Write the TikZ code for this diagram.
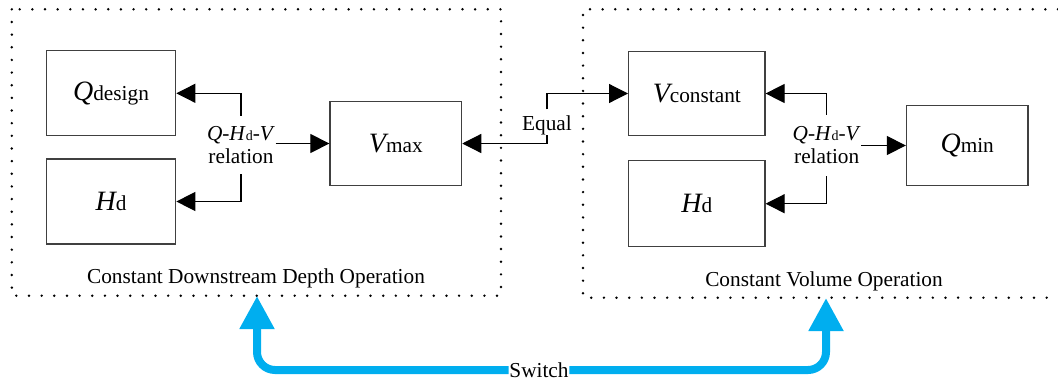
\documentclass[tikz,border=0pt]{standalone}
\usepackage{fontspec}
\setmainfont{Liberation Serif}
\usetikzlibrary{arrows.meta}

\definecolor{switchblue}{RGB}{0,174,239}
\definecolor{boxgray}{RGB}{64,64,64}

% big italic symbol, text-size word and small index letter
\newcommand{\bigsym}[1]{{\fontsize{28}{30}\selectfont\itshape #1}}
\newcommand{\idx}[1]{{\fontsize{14}{16}\selectfont #1}}
\newcommand{\qhv}{\textit{Q}-\textit{H}\idx{d}-\textit{V}}

\tikzset{
  blk/.style={draw=boxgray, line width=1.2pt, inner sep=0pt},
  link/.style={draw=black, line width=1.2pt, -{Triangle[length=19pt,width=19pt]}},
  backlink/.style={draw=black, line width=1.2pt, {Triangle[length=19pt,width=19pt]}-},
  relnode/.style={align=center, inner xsep=0.5pt, inner ysep=0pt},
  frame/.style={draw=black, line width=2.7pt, line cap=round, dash pattern=on 0pt off 12.65pt},
  switchline/.style={draw=switchblue, line width=8pt, rounded corners=18pt,
                     -{Triangle[length=33pt,width=33pt]}},
}

\begin{document}
\begin{tikzpicture}[x=1pt, y=-1pt, font=\fontsize{21.3}{23}\selectfont]
\useasboundingbox (0,0) rectangle (1058,381);

% dotted operation frames
\draw[frame] (11.8,9.3) rectangle (501,295.7);
\draw[frame] (1058,9.3) -- (583,9.3) -- (583,297.7) -- (1058,297.7);

% constant downstream depth operation
\node[blk, minimum width=129.5pt, minimum height=85pt] (qd) at (111,93.3) {\bigsym{Q}design};
\node[blk, minimum width=129.5pt, minimum height=85pt] (hdl) at (111,201.5) {\bigsym{H}d};
\node[blk, minimum width=131.7pt, minimum height=83.6pt] (vmax) at (395.8,143.5) {\bigsym{V}max};
\node[relnode, minimum height=58pt] (rel1) at (241,145) {\qhv\\relation};
\draw[link] (rel1.north) |- (qd.east);
\draw[link] (rel1.south) |- (hdl.east);
\draw[link] (rel1.east |- vmax.west) -- (vmax.west);

% constant volume operation
\node[blk, minimum width=136.4pt, minimum height=84.4pt] (vcon) at (696.8,93.5) {\bigsym{V}constant};
\node[blk, minimum width=136.4pt, minimum height=86pt] (hdr) at (696.8,203.7) {\bigsym{H}d};
\node[blk, minimum width=121.5pt, minimum height=80.4pt] (qmin) at (967.2,145.5) {\bigsym{Q}min};
\node[relnode, minimum height=61pt] (rel2) at (826.7,145.5) {\qhv\\relation};
\draw[link] (rel2.north) |- (vcon.east);
\draw[link] (rel2.south) |- (hdr.east);
\draw[link] (rel2.east |- qmin.west) -- (qmin.west);

% link between the two operations
\node[anchor=base, inner xsep=3pt, inner ysep=0pt, text height=20.5pt, text depth=5pt] (eq) at (547,130) {Equal};
\draw[backlink] (vmax.east) -| (eq.south);
\draw[link] (eq.north) |- (vcon.west);

% frame captions
\node[anchor=base] (op1) at (256,283.3) {Constant Downstream Depth Operation};
\node[anchor=base] (op2) at (824,286) {Constant Volume Operation};

% switching between the two modes
\coordinate (tipL) at (257,296);
\coordinate (tipR) at (826,298);
\node[inner xsep=0.5pt] (sw) at (539,370) {Switch};
\draw[switchline] (sw.west) -| (tipL);
\draw[switchline] (sw.east) -| (tipR);
\end{tikzpicture}
\end{document}
